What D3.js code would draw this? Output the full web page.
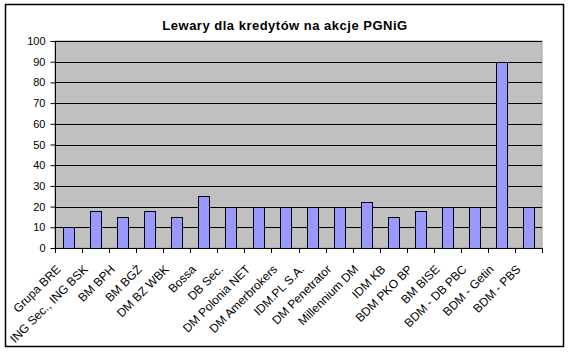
<!DOCTYPE html>
<html>
<head>
<meta charset="utf-8">
<script src="https://cdn.jsdelivr.net/npm/d3@7"></script>
<style>
  body { margin: 0; background: #fff; }
  svg text { font-family: Arial, "Liberation Sans", sans-serif; }
</style>
</head>
<body>
<svg id="chart" width="570" height="352"></svg>
<script>
// Kategorier (domæner) og værdier
var categories = ["Grupa BRE", "ING Sec., ING BSK", "BM BPH", "BM BGŻ", "DM BZ WBK", "Bossa",
    "DB Sec.", "DM Polonia NET", "DM Amerbrokers", "IDM.PL S.A.", "DM Penetrator",
    "Millennium DM", "IDM KB", "BDM PKO BP", "BM BISE", "BDM - DB PBC", "BDM - Getin", "BDM - PBS"];
var values = [10, 18, 15, 18, 15, 25, 20, 20, 20, 20, 20, 22, 15, 18, 20, 20, 90, 20];
var yTicks = [0, 10, 20, 30, 40, 50, 60, 70, 80, 90, 100];
var title = "Lewary dla kredytów na akcje PGNiG";

var svg = d3.select("#chart");

// Ydre ramme
svg.append("rect")
    .attr("x", 5.5).attr("y", 4.5)
    .attr("width", 558).attr("height", 342)
    .attr("fill", "#fff")
    .attr("stroke", "#000")
    .attr("stroke-width", 1.5);

// Titel
svg.append("text")
    .attr("x", 285).attr("y", 30)
    .attr("text-anchor", "middle")
    .style("font-size", "13px")
    .style("font-weight", "bold")
    .style("letter-spacing", "0.5px")
    .text(title);

var plotLeft = 55, plotRight = 542, plotTop = 41, plotBottom = 248;

var x = d3.scaleBand().domain(categories).range([plotLeft, plotRight]).paddingInner(0).paddingOuter(0);
var y = d3.scaleLinear().domain([0, 100]).range([plotBottom, plotTop]);

// Plotområde
svg.append("rect")
    .attr("x", plotLeft).attr("y", plotTop)
    .attr("width", plotRight - plotLeft).attr("height", plotBottom - plotTop)
    .attr("fill", "#c0c0c0")
    .attr("stroke", "#a0a0a0");

// Gitterlinjer
svg.append("g").selectAll("line")
    .data(yTicks.filter(function(d) { return d > 0; }))
    .enter().append("line")
    .attr("x1", plotLeft).attr("x2", plotRight)
    .attr("y1", function(d) { return Math.round(y(d)) + 0.5; })
    .attr("y2", function(d) { return Math.round(y(d)) + 0.5; })
    .attr("stroke", "#000");

// Søjler
var bw = x.bandwidth() / 2.5;
svg.append("g").selectAll("rect")
    .data(values)
    .enter().append("rect")
    .attr("x", function(d, i) { return Math.round(x(categories[i]) + x.bandwidth() / 2 - bw / 2) + 0.5; })
    .attr("y", function(d) { return Math.round(y(d)) + 0.5; })
    .attr("width", Math.round(bw))
    .attr("height", function(d) { return plotBottom - Math.round(y(d)); })
    .attr("fill", "#9999ff")
    .attr("stroke", "#000");

// Y-akse
var yAxis = svg.append("g")
    .attr("transform", "translate(" + (plotLeft + 0.5) + ",0)")
    .call(d3.axisLeft(y).tickValues(yTicks).tickSize(5).tickPadding(5));
yAxis.selectAll("text").style("font-size", "11px").attr("fill", "#000")
    .style("font-family", "Arial, 'Liberation Sans', sans-serif");
yAxis.selectAll("line").attr("stroke", "#000");
yAxis.select(".domain").attr("stroke", "#000").attr("d", "M0," + plotTop + "V" + (plotBottom + 0.5));

// X-akse
svg.append("line")
    .attr("x1", plotLeft).attr("x2", plotRight)
    .attr("y1", plotBottom + 0.5).attr("y2", plotBottom + 0.5)
    .attr("stroke", "#000");

var boundaries = categories.map(function(c) { return x(c); }).concat([plotRight]);
svg.append("g").selectAll("line")
    .data(boundaries)
    .enter().append("line")
    .attr("x1", function(d) { return Math.round(d) + 0.5; })
    .attr("x2", function(d) { return Math.round(d) + 0.5; })
    .attr("y1", plotBottom).attr("y2", plotBottom + 5)
    .attr("stroke", "#000");

// Kategori-etiketter, roteret -45°
svg.append("g").selectAll("text")
    .data(categories)
    .enter().append("text")
    .attr("transform", function(d) {
        return "translate(" + (x(d) + x.bandwidth() / 2 - 7) + "," + (plotBottom + 22) + ") rotate(-45)";
    })
    .attr("text-anchor", "end")
    .style("font-size", "12px")
    .text(function(d) { return d; });
</script>
</body>
</html>
